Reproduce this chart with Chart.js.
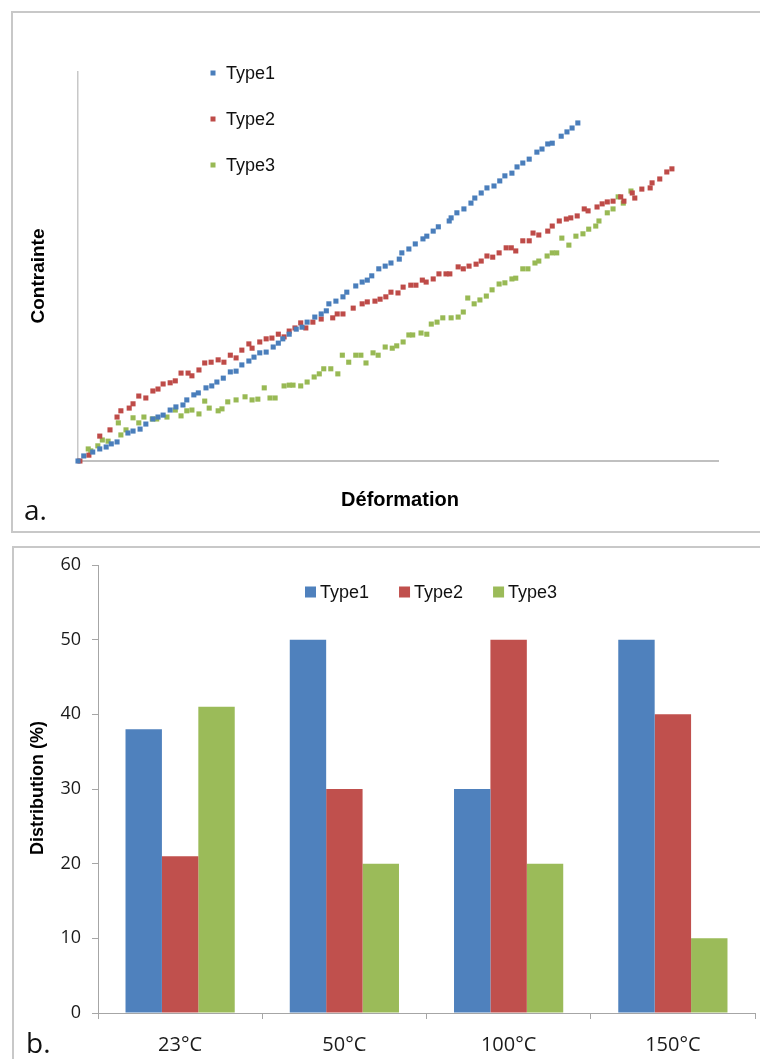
<!DOCTYPE html>
<html>
<head>
<meta charset="utf-8">
<script src="https://cdn.jsdelivr.net/npm/chart.js@4.4.1/dist/chart.umd.min.js"></script>
<style>
html,body{margin:0;padding:0;background:#fff;width:760px;height:1059px;overflow:hidden;position:relative;}
.frame{position:absolute;border:2px solid #c8c8c8;box-sizing:border-box;}
#f1{left:11px;top:11px;width:800px;height:522px;}
#f2{left:12px;top:546px;width:800px;height:600px;}
canvas{position:absolute;left:0;}
#c1{top:0;}
#c2{top:540px;}
.t{position:absolute;white-space:nowrap;color:#000;line-height:1;}
.ax{font-family:"Liberation Sans",Arial,sans-serif;font-weight:bold;transform:translate(-50%,-50%);}
.rot{transform:translate(-50%,-50%) rotate(-90deg);}
.lab{font-family:"Open Sans",sans-serif;font-size:28px;color:#111;}
</style>
</head>
<body>
<div class="frame" id="f1"></div>
<div class="frame" id="f2"></div>
<canvas id="c1" width="760" height="540"></canvas>
<canvas id="c2" width="760" height="519"></canvas>

<div class="t ax rot" style="left:37px;top:276px;font-size:19px;">Contrainte</div>
<div class="t ax" style="left:400px;top:499px;font-size:20px;">Déformation</div>
<div class="t lab" style="left:24px;top:495px;">a.</div>
<div class="t ax rot" style="left:37px;top:788px;font-size:18px;">Distribution (%)</div>
<div class="t lab" style="left:26px;top:1028px;">b.</div>

<script>
// ---- Panel a : stress-strain scatter (arbitrary units, 0-100) ----
const seriesNames = ['Type1', 'Type2', 'Type3'];

const type1Strain = [0,0.9,2.3,3.4,4.4,5.2,6.1,7.8,8.6,9.7,10.6,11.7,12.5,13.3,14.4,15.3,16.4,17.0,18.1,18.8,20.0,20.9,21.7,22.7,23.8,24.7,25.6,26.7,27.5,28.4,29.4,30.5,31.3,32.0,33.0,34.1,35.0,35.8,37.0,38.0,38.8,39.2,40.3,41.4,42.0,43.4,44.4,45.2,45.9,47.0,48.0,48.9,50.2,50.6,51.7,52.7,53.9,54.5,55.5,56.3,58.0,58.3,59.2,60.3,61.4,62.0,63.0,63.9,65.0,65.9,66.7,67.8,68.6,69.5,70.5,71.7,72.5,73.4,74.1,75.5,76.4,77.2,78.1];
const type1Stress = [0,1.3,2.3,3.1,3.6,4.4,4.9,7.2,7.7,8.2,9.5,10.8,11.3,11.8,13.1,13.9,14.4,15.7,17.0,17.5,18.8,19.3,20.3,21.3,22.9,23.1,24.7,25.7,26.7,27.8,28.0,29.3,30.3,31.4,32.6,33.9,34.4,35.7,37.0,37.8,38.6,40.4,41.1,42.2,43.4,45.0,46.0,46.5,47.6,49.4,50.1,50.9,51.9,53.5,54.5,55.8,57.1,57.8,59.1,60.2,61.7,62.5,63.8,64.8,66.3,67.6,68.9,70.2,70.7,72.0,73.3,74.0,75.6,76.6,77.6,79.4,80.2,81.5,81.7,83.5,84.6,85.6,86.9];

const type2Strain = [0.3,1.7,3.4,5.0,6.1,6.7,8.0,8.6,9.5,10.6,11.7,12.5,13.3,14.4,15.2,16.1,17.2,17.8,18.9,19.8,20.8,21.9,22.8,23.8,24.7,25.6,26.7,27.2,28.4,29.4,30.3,31.3,32.2,33.0,33.9,34.8,35.6,36.7,38.0,39.8,40.5,41.4,43.0,44.4,45.2,46.4,47.2,48.1,48.9,50.0,50.8,52.0,52.8,53.8,54.4,55.5,56.4,57.5,58.1,59.4,60.2,61.1,62.2,63.0,63.9,64.8,65.8,66.9,67.7,68.4,69.5,70.5,71.1,72.0,73.4,74.1,75.2,76.3,77.0,78.0,79.1,79.7,81.1,81.9,82.7,83.6,84.8,85.3,86.6,87.0,88.1,89.4,89.7,90.9,92.0,92.8];
const type2Stress = [0,1.5,6.4,8.0,11.3,12.9,13.6,14.7,16.7,16.2,18.0,18.5,19.8,20.1,20.6,22.6,22.6,21.9,23.4,25.2,25.4,26.0,25.4,27.2,26.5,28.5,30.1,29.0,30.6,31.4,31.6,32.6,31.9,33.4,34.2,35.5,34.2,35.7,36.5,36.8,37.8,37.8,39.3,40.4,40.9,41.1,41.6,42.2,43.4,43.2,44.7,45.2,45.2,46.5,46.0,46.8,48.1,48.1,48.1,49.9,49.4,50.1,50.6,51.4,52.7,52.4,53.5,54.8,54.8,54.0,56.6,56.6,58.6,58.1,59.1,60.4,61.7,62.2,62.5,63.0,64.8,64.3,65.3,66.1,66.6,66.8,67.9,66.8,68.9,67.6,69.9,70.2,71.5,72.5,74.3,75.1];

const type3Strain = [1.6,2.0,3.1,3.8,4.7,6.3,6.7,7.5,8.6,9.5,10.3,11.6,12.3,13.9,15.2,16.1,17.0,17.8,18.9,19.8,20.5,21.9,22.5,23.4,24.7,26.1,27.2,28.1,29.1,30.0,30.8,32.2,33.0,33.6,34.8,35.8,36.9,37.7,38.4,39.5,40.6,41.3,42.3,43.4,44.2,45.0,46.1,46.9,48.0,49.1,49.8,50.8,51.7,52.3,53.6,54.5,55.2,56.1,57.0,58.3,59.4,60.2,60.9,61.9,62.8,63.8,64.7,65.8,66.7,67.8,68.4,69.5,70.3,71.4,72.0,73.3,74.1,74.8,75.6,76.7,77.8,78.9,79.8,80.9,81.4,82.7,83.6,84.4,85.2,86.4];
const type3Stress = [3.1,2.6,3.9,5.4,5.1,9.8,6.7,8.0,11.1,9.8,11.3,10.8,10.8,11.3,13.1,11.6,12.9,13.1,12.1,15.4,13.6,12.9,13.4,15.2,15.7,16.5,15.7,15.9,18.8,16.2,16.2,19.3,19.5,19.5,19.3,20.3,21.6,22.4,23.7,23.7,22.4,27.2,25.4,27.2,27.2,25.2,27.8,27.2,29.3,29.0,29.6,30.6,32.4,32.4,32.9,32.6,35.2,35.7,36.8,36.8,37.0,38.3,41.9,40.4,41.4,42.4,44.0,45.5,45.8,46.8,47.0,49.4,49.4,50.9,51.4,52.7,53.5,53.5,57.3,55.5,57.8,58.4,59.6,60.4,61.7,63.8,64.8,67.9,66.3,69.4];

// ---- Panel b : distribution by temperature ----
const temperatures = ['23°C', '50°C', '100°C', '150°C'];
const type1Dist = [38, 50, 30, 50];
const type2Dist = [21, 30, 50, 40];
const type3Dist = [41, 20, 20, 10];
const distTicks = [0, 10, 20, 30, 40, 50, 60];

const markerColors = ['#4A7EBB', '#BE4B48', '#98B954'];
const barColors = ['#4F81BD', '#C0504D', '#9BBB59'];

function pts(xs, ys) { return xs.map((x, i) => ({ x: x, y: ys[i] })); }

const topLegend = {
  id: 'topLegend',
  afterDraw(chart) {
    const ctx = chart.ctx;
    ctx.save();
    ctx.font = '18px "Liberation Sans", Arial, sans-serif';
    ctx.textBaseline = 'middle';
    ctx.textAlign = 'left';
    chart.data.datasets.forEach((ds, i) => {
      const y = 73 + i * 46;
      ctx.fillStyle = ds.backgroundColor;
      ctx.fillRect(210.5, y - 2.5, 5, 5);
      ctx.fillStyle = '#111';
      ctx.fillText(ds.label, 226, y + 1);
    });
    ctx.restore();
  }
};

const bottomLegend = {
  id: 'bottomLegend',
  afterDraw(chart) {
    const ctx = chart.ctx;
    ctx.save();
    ctx.font = '18px "Liberation Sans", Arial, sans-serif';
    ctx.textBaseline = 'middle';
    ctx.textAlign = 'left';
    let x = 305;
    const y = 592 - 540;
    chart.data.datasets.forEach((ds) => {
      ctx.fillStyle = ds.backgroundColor;
      ctx.fillRect(x, y - 5.5, 11, 11);
      ctx.fillStyle = '#111';
      ctx.fillText(ds.label, x + 15, y + 1);
      x += 15 + ctx.measureText(ds.label).width + 30;
    });
    ctx.restore();
  }
};

new Chart(document.getElementById('c1'), {
  type: 'scatter',
  data: {
    datasets: [
      { label: seriesNames[0], data: pts(type1Strain, type1Stress), backgroundColor: markerColors[0], borderColor: markerColors[0] },
      { label: seriesNames[1], data: pts(type2Strain, type2Stress), backgroundColor: markerColors[1], borderColor: markerColors[1] },
      { label: seriesNames[2], data: pts(type3Strain, type3Stress), backgroundColor: markerColors[2], borderColor: markerColors[2] }
    ]
  },
  options: {
    responsive: false,
    animation: false,
    events: [],
    clip: false,
    elements: { point: { pointStyle: 'rect', radius: 3.6, borderWidth: 0 } },
    layout: { padding: { left: 78, right: 42, top: 72, bottom: 79 } },
    plugins: { legend: { display: false }, tooltip: { enabled: false } },
    scales: {
      x: { type: 'linear', min: 0, max: 100, ticks: { display: false }, grid: { display: false },
           border: { display: true, color: '#c0c0c0', width: 2 }, afterFit(s) { s.height = 0; } },
      y: { type: 'linear', min: 0, max: 100, ticks: { display: false }, grid: { display: false },
           border: { display: true, color: '#c8c8c8', width: 1.5 }, afterFit(s) { s.width = 0; } }
    }
  },
  plugins: [topLegend]
});

new Chart(document.getElementById('c2'), {
  type: 'bar',
  data: {
    labels: temperatures,
    datasets: [
      { label: seriesNames[0], data: type1Dist, backgroundColor: barColors[0] },
      { label: seriesNames[1], data: type2Dist, backgroundColor: barColors[1] },
      { label: seriesNames[2], data: type3Dist, backgroundColor: barColors[2] }
    ]
  },
  options: {
    responsive: false,
    animation: false,
    events: [],
    datasets: { bar: { categoryPercentage: 0.665, barPercentage: 1.0, borderWidth: 0 } },
    layout: { padding: { left: 0, right: 5, top: 25, bottom: 0 } },
    plugins: { legend: { display: false }, tooltip: { enabled: false } },
    scales: {
      x: {
        grid: { drawOnChartArea: false, drawTicks: true, tickLength: 6, color: '#a6a6a6', offset: true },
        border: { display: true, color: '#a6a6a6', width: 1 },
        ticks: { font: { family: '"Open Sans", sans-serif', size: 20 }, color: '#1a1a1a', padding: 14, maxRotation: 0 },
        afterFit(s) { s.height = 46; }
      },
      y: {
        min: distTicks[0], max: distTicks[distTicks.length - 1],
        afterBuildTicks(s) { s.ticks = distTicks.map(v => ({ value: v })); },
        grid: { drawOnChartArea: false, drawTicks: true, tickLength: 6, color: '#a6a6a6' },
        border: { display: true, color: '#a6a6a6', width: 1 },
        ticks: { font: { family: '"Open Sans", sans-serif', size: 18 }, color: '#1a1a1a', padding: 11 },
        afterFit(s) { s.width = 98; }
      }
    }
  },
  plugins: [bottomLegend]
});
</script>
</body>
</html>
